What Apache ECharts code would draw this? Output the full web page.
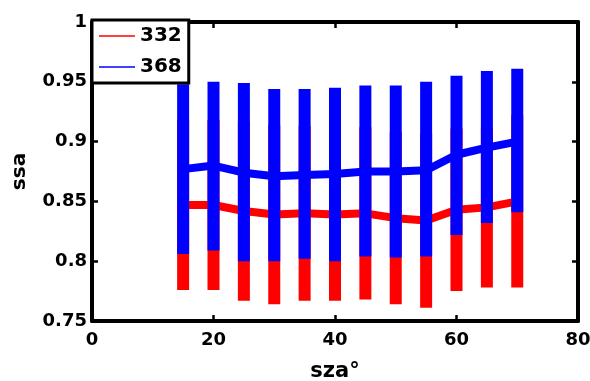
<!DOCTYPE html>
<html>
<head>
<meta charset="utf-8">
<script src="https://cdn.jsdelivr.net/npm/echarts@6/dist/echarts.min.js"></script>
<style>
  html, body { margin: 0; padding: 0; background: #fff; }
  #chart { width: 590px; height: 381px; }
</style>
</head>
<body>
<div id="chart"></div>
<script>
// Solar zenith angle (degrees)
const sza = [15, 20, 25, 30, 35, 40, 45, 50, 55, 60, 65, 70];

// Single scattering albedo at 332 nm: mean and spread limits
const mean332 = [0.847, 0.847, 0.842, 0.839, 0.840, 0.839, 0.840, 0.836, 0.834, 0.843, 0.845, 0.850];
const low332  = [0.776, 0.776, 0.767, 0.764, 0.767, 0.767, 0.768, 0.764, 0.761, 0.775, 0.778, 0.778];
const high332 = [0.918, 0.918, 0.917, 0.914, 0.913, 0.911, 0.912, 0.908, 0.907, 0.911, 0.912, 0.922];

// Single scattering albedo at 368 nm: mean and spread limits
const mean368 = [0.877, 0.880, 0.874, 0.871, 0.872, 0.873, 0.875, 0.875, 0.876, 0.889, 0.895, 0.900];
const low368  = [0.806, 0.809, 0.800, 0.800, 0.802, 0.800, 0.804, 0.803, 0.804, 0.822, 0.832, 0.841];
const high368 = [0.948, 0.950, 0.949, 0.944, 0.944, 0.945, 0.947, 0.947, 0.950, 0.955, 0.959, 0.961];

const xTicks = [0, 20, 40, 60, 80];
const yTicks = [0.75, 0.8, 0.85, 0.9, 0.95, 1];

const RED = '#ff0000';
const BLUE = '#0000ff';
const FONT = 'DejaVu Sans';

function pairs(xs, ys) { return xs.map((x, i) => [x, ys[i]]); }
function rangeRows(xs, lo, hi) { return xs.map((x, i) => [x, lo[i], hi[i]]); }

// Thick vertical spread bars, one per angle
function errorBars(name, rows, color, z) {
  return {
    type: 'custom',
    name: name,
    data: rows,
    z: z,
    encode: { x: 0, y: [1, 2] },
    renderItem: function (params, api) {
      const x = api.value(0);
      const p0 = api.coord([x, api.value(1)]);
      const p1 = api.coord([x, api.value(2)]);
      return {
        type: 'line',
        shape: { x1: p0[0], y1: p0[1], x2: p1[0], y2: p1[1] },
        style: { stroke: color, lineWidth: 12, lineCap: 'butt' }
      };
    },
    silent: true
  };
}

// Mean curve through the bars
function meanLine(name, data, color, z) {
  return {
    type: 'line',
    name: name,
    data: data,
    z: z,
    symbol: 'none',
    color: color,
    lineStyle: { color: color, width: 8, join: 'round' },
    silent: true
  };
}

const axisFont = { fontFamily: FONT, fontWeight: 'bold', fontSize: 18, color: '#000' };
const lineStyle = { color: '#000', width: 4 };
const tickStyle = { color: '#000', width: 2.5 };

const option = {
  backgroundColor: '#fff',
  animation: false,
  grid: { left: 92, right: 12, top: 22, bottom: 60, containLabel: false, outerBoundsMode: 'none' },
  legend: {
    orient: 'vertical',
    left: 92,
    top: 20,
    data: [
      { name: '332', icon: 'rect' },
      { name: '368', icon: 'rect' }
    ],
    itemWidth: 36,
    itemHeight: 1.5,
    itemGap: 7,
    padding: [4, 7, 4, 7],
    backgroundColor: '#fff',
    borderColor: '#000',
    borderWidth: 3,
    borderRadius: 0,
    textStyle: { fontFamily: FONT, fontWeight: 'bold', fontSize: 20, color: '#000', lineHeight: 24 },
    z: 10
  },
  xAxis: [
    {
      type: 'value', min: 0, max: 80, interval: 20,
      name: 'sza°', nameLocation: 'middle', nameGap: 40,
      nameTextStyle: { fontFamily: FONT, fontWeight: 'bold', fontSize: 21, color: '#000' },
      axisLine: { show: true, onZero: false, lineStyle: lineStyle },
      axisTick: { show: true, inside: true, length: 6, lineStyle: tickStyle },
      axisLabel: { ...axisFont, margin: 10, formatter: v => xTicks.includes(v) ? String(v) : '' },
      splitLine: { show: false }
    },
    {
      type: 'value', min: 0, max: 80, interval: 20, position: 'top',
      axisLine: { show: true, onZero: false, lineStyle: lineStyle },
      axisTick: { show: true, inside: true, length: 6, lineStyle: tickStyle },
      axisLabel: { show: false },
      splitLine: { show: false }
    }
  ],
  yAxis: [
    {
      type: 'value', min: 0.75, max: 1, interval: 0.05,
      name: 'ssa', nameLocation: 'middle', nameGap: 62,
      nameTextStyle: { fontFamily: FONT, fontWeight: 'bold', fontSize: 20, color: '#000' },
      axisLine: { show: true, onZero: false, lineStyle: lineStyle },
      axisTick: { show: true, inside: true, length: 6, lineStyle: tickStyle },
      axisLabel: {
        ...axisFont, margin: 5,
        formatter: v => {
          const t = yTicks.find(k => Math.abs(k - v) < 1e-9);
          return t === undefined ? '' : String(t);
        }
      },
      splitLine: { show: false }
    },
    {
      type: 'value', min: 0.75, max: 1, interval: 0.05, position: 'right',
      axisLine: { show: true, onZero: false, lineStyle: lineStyle },
      axisTick: { show: true, inside: true, length: 6, lineStyle: tickStyle },
      axisLabel: { show: false },
      splitLine: { show: false }
    }
  ],
  series: [
    errorBars('bars332', rangeRows(sza, low332, high332), RED, 2),
    meanLine('332', pairs(sza, mean332), RED, 3),
    errorBars('bars368', rangeRows(sza, low368, high368), BLUE, 4),
    meanLine('368', pairs(sza, mean368), BLUE, 5)
  ]
};

const chart = echarts.init(document.getElementById('chart'), null, { renderer: 'canvas' });
chart.setOption(option);
</script>
</body>
</html>
